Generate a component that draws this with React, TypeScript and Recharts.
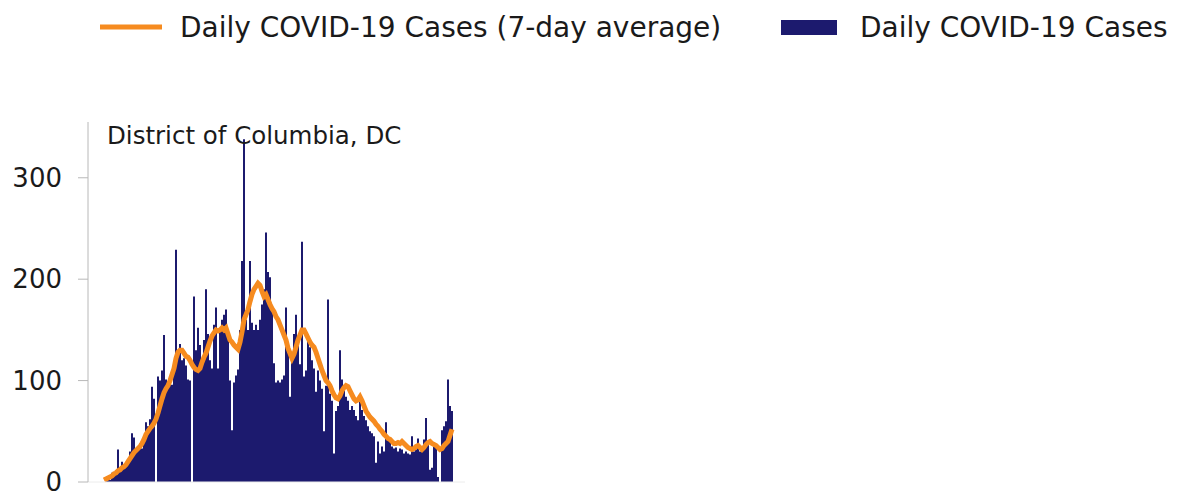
import React from "react";
import { ComposedChart, Bar, Line, XAxis, YAxis } from "recharts";

const FONT = "'DejaVu Sans', sans-serif";
const NAVY = "#1c1a6e";
const ORANGE = "#f68b1f";

const title = "District of Columbia, DC";
const yTicks = [0, 100, 200, 300];

// daily reported cases
const dailyCases = [
  0, 2, 3, 2, 9, 6, 10, 32, 12, 20,
  14, 18, 22, 30, 48, 44, 30, 35, 38, 33,
  42, 59, 55, 62, 94, 82, 0, 104, 100, 110,
  145, 101, 98, 104, 96, 110, 229, 130, 136, 120,
  122, 115, 101, 100, 0, 183, 130, 152, 135, 120,
  140, 190, 146, 120, 112, 155, 172, 112, 150, 160,
  165, 170, 150, 100, 51, 98, 105, 111, 150, 218,
  338, 160, 150, 218, 157, 150, 155, 150, 160, 175,
  190, 246, 207, 202, 174, 117, 98, 100, 98, 101,
  105, 172, 130, 84, 120, 146, 165, 140, 116, 237,
  104, 110, 146, 133, 120, 112, 89, 110, 100, 92,
  50, 95, 180, 87, 80, 28, 70, 75, 130, 101,
  90, 84, 80, 71, 75, 71, 65, 61, 80, 71,
  65, 61, 55, 50, 48, 45, 19, 40, 28, 35,
  30, 59, 45, 40, 35, 33, 34, 30, 33, 32,
  28, 30, 28, 27, 45, 30, 32, 43, 30, 30,
  42, 63, 38, 12, 14, 38, 35, 5, 0, 51,
  55, 60, 101, 75, 70,
];

// 7-day average
const weeklyAvg = [
  2, 3, 4, 5, 6, 8, 9, 11, 12, 14,
  15, 17, 20, 23, 26, 29, 31, 33, 35, 38,
  42, 47, 50, 53, 55, 58, 62, 68, 75, 82,
  88, 92, 95, 100, 106, 112, 122, 128, 130, 130,
  127, 124, 123, 120, 116, 113, 111, 110, 112, 118,
  123, 127, 133, 139, 144, 147, 150, 149, 150, 152,
  150, 152, 146, 140, 138, 135, 133, 131, 138, 148,
  160, 165, 170, 178, 185, 190, 193, 196, 194, 188,
  183, 185, 180, 175, 171, 168, 163, 160, 155, 150,
  145, 140, 132, 127, 122, 126, 133, 140, 145, 150,
  150, 146, 142, 138, 135, 133, 128, 122, 116, 110,
  105, 100, 98, 95, 90, 86, 83, 82, 85, 90,
  93, 95, 94, 90, 86, 82, 80, 81, 84, 80,
  75, 70, 67, 64, 62, 60, 57, 55, 52, 50,
  47, 45, 43, 42, 40, 38, 38, 39, 38, 40,
  38, 36, 34, 33, 32, 33, 35, 36, 34, 32,
  34, 37, 39, 40, 38, 37, 36, 34, 32, 33,
  36, 38, 40, 46, 52,
];

const days = dailyCases.map((_, i) => i + 1);

const data = days.map((d, i) => ({
  day: d,
  cases: dailyCases[i],
  avg: weeklyAvg[i],
}));

function TopLegend() {
  return (
    <svg width={1184} height={60} style={{ position: "absolute", left: 0, top: 0 }}>
      <line x1={100} x2={162} y1={27} y2={27} stroke={ORANGE} strokeWidth={5} />
      <text x={180} y={37} fontFamily={FONT} fontSize={28} fill="#1a1a1a">
        Daily COVID-19 Cases (7-day average)
      </text>
      <rect x={781} y={20} width={56} height={15} fill={NAVY} />
      <text x={860} y={37} fontFamily={FONT} fontSize={28} fill="#1a1a1a">
        Daily COVID-19 Cases
      </text>
    </svg>
  );
}

export default function App() {
  return (
    <div style={{ position: "absolute", left: 0, top: 0, width: 1184, height: 499, background: "#fff" }}>
      <TopLegend />
      <div style={{ position: "absolute", left: 0, top: 0 }}>
        <ComposedChart
          width={1184}
          height={499}
          data={data}
          margin={{ top: 122, right: 719, bottom: 16, left: 0 }}
          barCategoryGap={0}
          barGap={0}
        >
          <XAxis
            dataKey="day"
            height={1}
            tick={false}
            tickLine={false}
            axisLine={{ stroke: "#ececec" }}
            padding={{ left: 15, right: 12 }}
          />
          <YAxis
            width={88}
            domain={[0, 355]}
            ticks={yTicks}
            tickSize={10}
            tickMargin={16}
            axisLine={{ stroke: "#b8b8b8" }}
            tickLine={{ stroke: "#b8b8b8" }}
            tick={{ fill: "#1a1a1a", fontSize: 26, fontFamily: FONT }}
          />
          <Bar dataKey="cases" fill={NAVY} isAnimationActive={false} />
          <Line
            type="linear"
            dataKey="avg"
            stroke={ORANGE}
            strokeWidth={5}
            dot={false}
            isAnimationActive={false}
          />
        </ComposedChart>
      </div>
      <div
        style={{
          position: "absolute",
          left: 107,
          top: 121,
          fontFamily: FONT,
          fontSize: 24.5,
          color: "#1a1a1a",
          whiteSpace: "nowrap",
        }}
      >
        {title}
      </div>
    </div>
  );
}
